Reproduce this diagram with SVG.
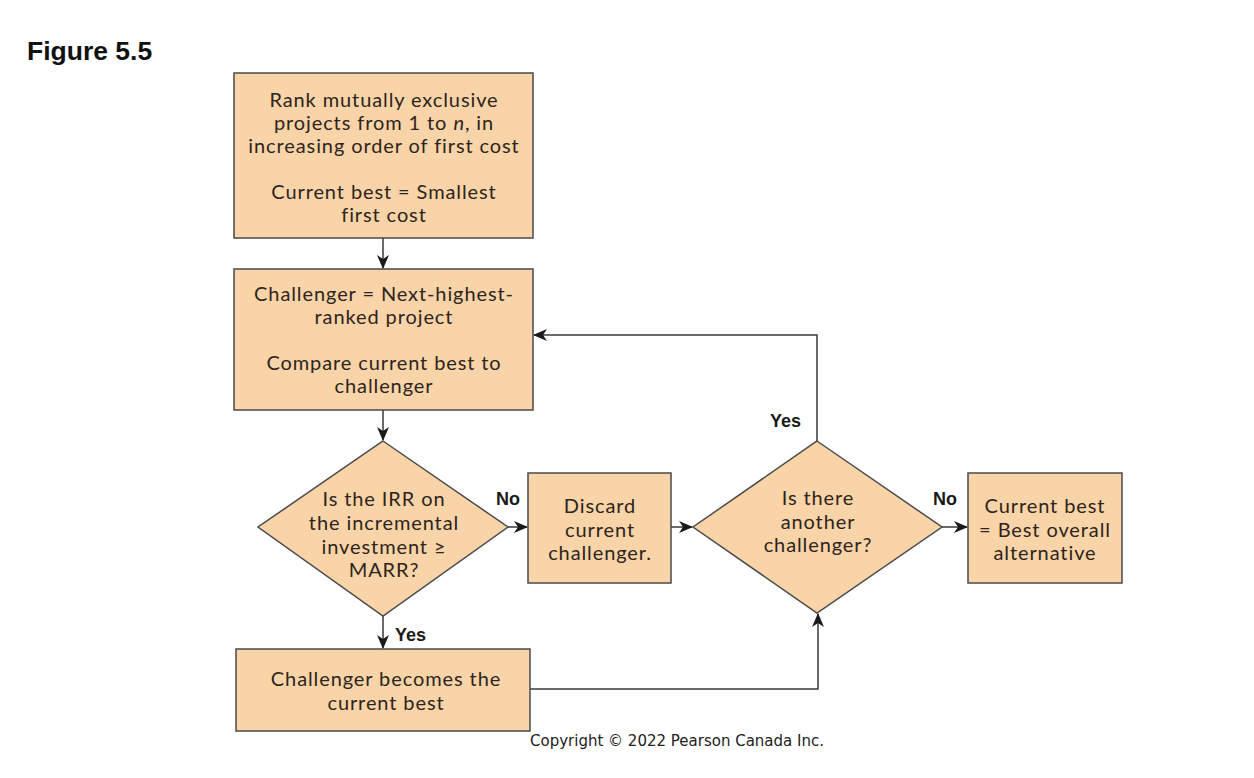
<svg xmlns="http://www.w3.org/2000/svg" width="1254" height="778" viewBox="0 0 1254 778">
<style>
.box{fill:#F9D4A8;stroke:#4a4a4a;stroke-width:1.5}
.t{font-family:Lato,"Open Sans","Liberation Sans",sans-serif;font-size:20px;letter-spacing:0.9px;fill:#2e241b;text-anchor:middle}
.lbl{font-family:"Liberation Sans",sans-serif;font-size:18px;font-weight:bold;fill:#1a1a1a}
.c{fill:none;stroke:#3a3a3a;stroke-width:1.5}
</style>
<defs>
<marker id="ah" viewBox="0 0 14 12" refX="13" refY="6" markerWidth="14" markerHeight="12" markerUnits="userSpaceOnUse" orient="auto">
<path d="M0,0 L14,6 L0,12 L4,6 Z" fill="#1a1a1a"/>
</marker>
</defs>
<rect width="1254" height="778" fill="#ffffff"/>
<text x="27" y="60" font-family="Liberation Sans, sans-serif" font-size="26.5" font-weight="bold" fill="#111">Figure 5.5</text>

<g id="connectors">
<line class="c" x1="383" y1="238" x2="383" y2="268" marker-end="url(#ah)"/>
<line class="c" x1="383" y1="410" x2="383" y2="440" marker-end="url(#ah)"/>
<line class="c" x1="383" y1="616" x2="383" y2="648" marker-end="url(#ah)"/>
<line class="c" x1="508" y1="527" x2="527" y2="527" marker-end="url(#ah)"/>
<line class="c" x1="671" y1="527" x2="692" y2="527" marker-end="url(#ah)"/>
<line class="c" x1="942" y1="527" x2="967" y2="527" marker-end="url(#ah)"/>
<polyline class="c" points="530,689 818,689 818,614" marker-end="url(#ah)"/>
<polyline class="c" points="817,441 817,335 534,335" marker-end="url(#ah)"/>
<text class="lbl" x="395" y="641">Yes</text>
<text class="lbl" x="496" y="505">No</text>
<text class="lbl" x="933" y="505">No</text>
<text class="lbl" x="770" y="427">Yes</text>
</g>

<g id="rank">
<rect class="box" x="234" y="73" width="299" height="165"/>
<text class="t" x="384" y="107">Rank mutually exclusive</text>
<text class="t" x="384" y="130">projects from 1 to <tspan font-style="italic">n</tspan>, in</text>
<text class="t" x="384" y="153">increasing order of first cost</text>
<text class="t" x="384" y="199">Current best = Smallest</text>
<text class="t" x="384" y="222">first cost</text>
</g>

<g id="challenger">
<rect class="box" x="234" y="269" width="299" height="141"/>
<text class="t" x="384" y="301">Challenger = Next-highest-</text>
<text class="t" x="384" y="324">ranked project</text>
<text class="t" x="384" y="370">Compare current best to</text>
<text class="t" x="384" y="393">challenger</text>
</g>

<g id="irr">
<polygon class="box" points="383,441 508,527 383,616 258,527"/>
<text class="t" x="384" y="506">Is the IRR on</text>
<text class="t" x="384" y="530">the incremental</text>
<text class="t" x="384" y="554">investment ≥</text>
<text class="t" x="384" y="577">MARR?</text>
</g>

<g id="discard">
<rect class="box" x="528" y="473" width="143" height="110"/>
<text class="t" x="600" y="513">Discard</text>
<text class="t" x="600" y="537">current</text>
<text class="t" x="600" y="560">challenger.</text>
</g>

<g id="another">
<polygon class="box" points="817,441 942,527 817,613 693,527"/>
<text class="t" x="818" y="505">Is there</text>
<text class="t" x="818" y="529">another</text>
<text class="t" x="818" y="552">challenger?</text>
</g>

<g id="final">
<rect class="box" x="968" y="473" width="154" height="110"/>
<text class="t" x="1045" y="513">Current best</text>
<text class="t" x="1045" y="537">= Best overall</text>
<text class="t" x="1045" y="560">alternative</text>
</g>

<g id="becomes">
<rect class="box" x="236" y="649" width="294" height="82"/>
<text class="t" x="386" y="686">Challenger becomes the</text>
<text class="t" x="386" y="710">current best</text>
</g>

<text x="677" y="746" font-family="DejaVu Sans, sans-serif" font-size="15" fill="#222" text-anchor="middle">Copyright © 2022 Pearson Canada Inc.</text>
</svg>
